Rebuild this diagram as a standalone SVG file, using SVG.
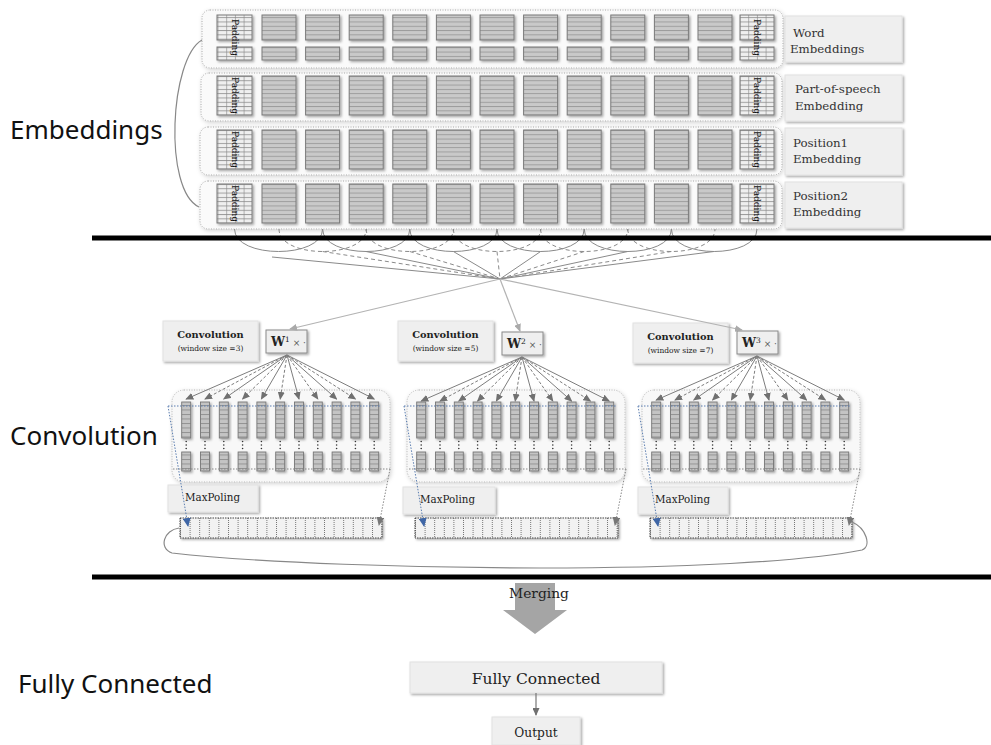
<svg xmlns="http://www.w3.org/2000/svg" xmlns:xlink="http://www.w3.org/1999/xlink" width="991" height="745" viewBox="0 0 991 745">
<defs>
<style>
.cell{fill:url(#hs);stroke:#7a7a7a;stroke-width:1;filter:url(#sh)}
.pad{fill:url(#pg);stroke:#7a7a7a;stroke-width:1;filter:url(#sh)}
.ccell{fill:url(#cs);stroke:#777;stroke-width:0.9;filter:url(#sh)}
.padt{font-family:"DejaVu Serif",serif;font-size:9px;fill:#111}
.row{fill:#fafafa;stroke:#a8a8a8;stroke-width:1;stroke-dasharray:1 1.5;filter:url(#sh2)}
.box{fill:#efefef;stroke:#e2e2e2;stroke-width:1;filter:url(#sh)}
.serif{font-family:"DejaVu Serif",serif;fill:#222}
.lab{font-family:"DejaVu Serif",serif;font-size:11.8px;fill:#333}
.big{font-family:"Noto Sans","Open Sans",sans-serif;font-size:26px;fill:#111}
.thick{stroke:#000;stroke-width:5}
.arc{fill:none;stroke:#8a8a8a;stroke-width:1}
.darc{fill:none;stroke:#8a8a8a;stroke-width:1;stroke-dasharray:4 3}
.fan{stroke:#7d7d7d;stroke-width:1;marker-end:url(#ah)}
.fand{stroke:#7d7d7d;stroke-width:1;stroke-dasharray:3 2;marker-end:url(#ah)}
.big3{stroke:#b3b3b3;stroke-width:1.2;fill:none;marker-end:url(#ahl)}
.blue{stroke:#5a7db0;stroke-width:1;stroke-dasharray:1.5 1.5;fill:none}
.gdot{stroke:#888;stroke-width:1;stroke-dasharray:1.5 1.5;fill:none}
.cont{fill:#f8f8f8;stroke:#b5b5b5;stroke-width:1;stroke-dasharray:1 1.5;filter:url(#sh2)}
.pool{fill:url(#mp);stroke:#444;stroke-width:1;stroke-dasharray:1.5 1;filter:url(#sh)}
</style>
<filter id="sh" x="-30%" y="-30%" width="170%" height="170%"><feDropShadow dx="1.5" dy="1.5" stdDeviation="1.2" flood-color="#000" flood-opacity="0.35"/></filter>
<filter id="sh2" x="-10%" y="-20%" width="120%" height="150%"><feDropShadow dx="1" dy="1.5" stdDeviation="2" flood-color="#000" flood-opacity="0.18"/></filter>
<pattern id="hs" patternUnits="userSpaceOnUse" width="10" height="4.3"><rect width="10" height="4.3" fill="#c9c9c9"/><line x1="0" y1="0.5" x2="10" y2="0.5" stroke="#8e8e8e" stroke-width="0.8"/></pattern>
<pattern id="pg" patternUnits="userSpaceOnUse" width="8.7" height="4.3"><rect width="8.7" height="4.3" fill="#efefef"/><line x1="0" y1="0.5" x2="8.7" y2="0.5" stroke="#777" stroke-width="0.7"/><line x1="0.5" y1="0" x2="0.5" y2="4.3" stroke="#888" stroke-width="0.6"/></pattern>
<pattern id="cs" patternUnits="userSpaceOnUse" width="9" height="4.5"><rect width="9" height="4.5" fill="#c4c4c4"/><line x1="0" y1="0.5" x2="9" y2="0.5" stroke="#858585" stroke-width="0.8"/></pattern>
<pattern id="mp" patternUnits="userSpaceOnUse" x="180" y="0" width="9.6" height="20"><rect width="9.6" height="20" fill="#f2f2f2"/><line x1="0.5" y1="0" x2="0.5" y2="20" stroke="#555" stroke-width="0.8" stroke-dasharray="1 1"/></pattern>
<marker id="ah" viewBox="0 0 8 7" markerWidth="8" markerHeight="7" refX="7" refY="3.5" orient="auto" markerUnits="userSpaceOnUse"><path d="M0,0 L8,3.5 L0,7 z" fill="#707070"/></marker>
<marker id="ahl" viewBox="0 0 8 7" markerWidth="8" markerHeight="7" refX="7" refY="3.5" orient="auto" markerUnits="userSpaceOnUse"><path d="M0,0 L8,3.5 L0,7 z" fill="#aaaaaa"/></marker>
<marker id="ahb" viewBox="0 0 9 8" markerWidth="9" markerHeight="8" refX="8" refY="4" orient="auto" markerUnits="userSpaceOnUse"><path d="M0,0 L9,4 L0,8 z" fill="#3f66a6"/></marker>
<marker id="ahg" viewBox="0 0 9 8" markerWidth="9" markerHeight="8" refX="8" refY="4" orient="auto" markerUnits="userSpaceOnUse"><path d="M0,0 L9,4 L0,8 z" fill="#777"/></marker>
<g id="cells11">
<rect class="cell" x="262" y="0" width="34" height="39"/><rect class="cell" x="305.6" y="0" width="34" height="39"/><rect class="cell" x="349.2" y="0" width="34" height="39"/><rect class="cell" x="392.8" y="0" width="34" height="39"/><rect class="cell" x="436.4" y="0" width="34" height="39"/><rect class="cell" x="480" y="0" width="34" height="39"/><rect class="cell" x="523.6" y="0" width="34" height="39"/><rect class="cell" x="567.2" y="0" width="34" height="39"/><rect class="cell" x="610.8" y="0" width="34" height="39"/><rect class="cell" x="654.4" y="0" width="34" height="39"/><rect class="cell" x="698" y="0" width="34" height="39"/>
<rect class="pad" x="217" y="0" width="35" height="39"/><rect class="pad" x="740" y="0" width="34" height="39"/>
<text class="padt" transform="translate(234.5,19.5) rotate(90)" text-anchor="middle" dominant-baseline="central">Padding</text>
<text class="padt" transform="translate(757,19.5) rotate(90)" text-anchor="middle" dominant-baseline="central">Padding</text>
</g>
<g id="col"><rect class="ccell" x="0" y="402" width="9" height="36"/><circle cx="4.5" cy="441.5" r="0.8" fill="#333"/><circle cx="4.5" cy="445" r="0.8" fill="#333"/><circle cx="4.5" cy="448.5" r="0.8" fill="#333"/><rect class="ccell" x="0" y="452" width="9" height="19"/></g>
<g id="maps">
<rect class="cont" x="172" y="390" width="218" height="92" rx="12"/>
<use href="#col" x="181.7"/><use href="#col" x="200.5"/><use href="#col" x="219.3"/><use href="#col" x="238.1"/><use href="#col" x="256.9"/><use href="#col" x="275.7"/><use href="#col" x="294.5"/><use href="#col" x="313.3"/><use href="#col" x="332.1"/><use href="#col" x="350.9"/><use href="#col" x="369.7"/>
</g>
<g id="fanlines">
<line class="fan" x1="287" y1="355" x2="186.2" y2="399"/><line class="fand" x1="287" y1="355" x2="205" y2="399"/><line class="fan" x1="287" y1="355" x2="223.8" y2="399"/><line class="fand" x1="287" y1="355" x2="242.6" y2="399"/><line class="fan" x1="287" y1="355" x2="261.4" y2="399"/><line class="fand" x1="287" y1="355" x2="280.2" y2="399"/><line class="fan" x1="287" y1="355" x2="299" y2="399"/><line class="fand" x1="287" y1="355" x2="317.8" y2="399"/><line class="fan" x1="287" y1="355" x2="336.6" y2="399"/><line class="fand" x1="287" y1="355" x2="355.4" y2="399"/><line class="fan" x1="287" y1="355" x2="374.2" y2="399"/>
</g>
<g id="proj">
<line class="blue" x1="168" y1="406" x2="380" y2="406"/>
<line class="blue" x1="168" y1="406" x2="188" y2="526" marker-end="url(#ahb)"/>
<line class="gdot" x1="173" y1="469" x2="390" y2="469"/>
<line class="gdot" x1="390" y1="469" x2="379" y2="525" marker-end="url(#ahg)"/>
</g>
</defs>
<rect width="991" height="745" fill="#fff"/>

<g id="section-labels">
<text class="big" x="10" y="139">Embeddings</text>
<text class="big" x="10" y="445">Convolution</text>
<text class="big" x="18" y="693">Fully Connected</text>
</g>

<g id="row-word">
<rect class="row" x="202" y="10" width="581" height="58" rx="8"/>
<rect class="cell" x="262" y="15" width="34" height="25"/><rect class="cell" x="305.6" y="15" width="34" height="25"/><rect class="cell" x="349.2" y="15" width="34" height="25"/><rect class="cell" x="392.8" y="15" width="34" height="25"/><rect class="cell" x="436.4" y="15" width="34" height="25"/><rect class="cell" x="480" y="15" width="34" height="25"/><rect class="cell" x="523.6" y="15" width="34" height="25"/><rect class="cell" x="567.2" y="15" width="34" height="25"/><rect class="cell" x="610.8" y="15" width="34" height="25"/><rect class="cell" x="654.4" y="15" width="34" height="25"/><rect class="cell" x="698" y="15" width="34" height="25"/>
<rect class="cell" x="262" y="47" width="34" height="13"/><rect class="cell" x="305.6" y="47" width="34" height="13"/><rect class="cell" x="349.2" y="47" width="34" height="13"/><rect class="cell" x="392.8" y="47" width="34" height="13"/><rect class="cell" x="436.4" y="47" width="34" height="13"/><rect class="cell" x="480" y="47" width="34" height="13"/><rect class="cell" x="523.6" y="47" width="34" height="13"/><rect class="cell" x="567.2" y="47" width="34" height="13"/><rect class="cell" x="610.8" y="47" width="34" height="13"/><rect class="cell" x="654.4" y="47" width="34" height="13"/><rect class="cell" x="698" y="47" width="34" height="13"/>
<rect class="pad" x="217" y="15" width="35" height="25"/><rect class="pad" x="217" y="47" width="35" height="13"/>
<rect class="pad" x="740" y="15" width="34" height="25"/><rect class="pad" x="740" y="47" width="34" height="13"/>
<text class="padt" transform="translate(234.5,37.5) rotate(90)" text-anchor="middle" dominant-baseline="central">Padding</text>
<text class="padt" transform="translate(757,37.5) rotate(90)" text-anchor="middle" dominant-baseline="central">Padding</text>
<rect class="box" x="785" y="16" width="117" height="46"/>
<text class="lab" x="793" y="37">Word</text><text class="lab" x="790" y="53">Embeddings</text>
</g>

<g id="row-pos">
<rect class="row" x="201" y="73" width="581" height="48" rx="8"/>
<use href="#cells11" y="76"/>
<rect class="box" x="785" y="75" width="117" height="46"/>
<text class="lab" x="795" y="93">Part-of-speech</text><text class="lab" x="795" y="110">Embedding</text>
</g>

<g id="row-position1">
<rect class="row" x="200" y="127" width="582" height="48" rx="8"/>
<use href="#cells11" y="130"/>
<rect class="box" x="785" y="128" width="117" height="47"/>
<text class="lab" x="793" y="147">Position1</text><text class="lab" x="793" y="163">Embedding</text>
</g>

<g id="row-position2">
<rect class="row" x="200" y="181" width="582" height="48" rx="8"/>
<use href="#cells11" y="184"/>
<rect class="box" x="785" y="182" width="117" height="46"/>
<text class="lab" x="793" y="200">Position2</text><text class="lab" x="793" y="216">Embedding</text>
</g>

<g id="conv1-label"><rect class="box" x="163" y="321" width="95" height="40"/>
<text class="serif" x="210.5" y="338" text-anchor="middle" font-size="9.8" font-weight="bold">Convolution</text>
<text class="serif" x="210.5" y="351" text-anchor="middle" font-size="7.5" fill="#444">(window size =3)</text></g>
<g id="conv1-w"><rect class="box" x="266" y="330" width="41" height="23" style="stroke:#8a8a8a"/>
<text class="serif" x="271" y="346"><tspan font-weight="bold" font-size="12.5">W</tspan><tspan font-size="7.5" dy="-4">1</tspan><tspan font-size="9" dy="4" fill="#555"> × ·</tspan></text></g>
<g id="conv1-maps"><use href="#maps"/></g>
<g id="conv1-maxlabel"><rect class="box" x="168" y="485" width="90" height="27"/><text class="serif" x="185" y="501" font-size="10.3">MaxPoling</text></g>
<g id="conv1-pool"><rect class="pool" x="180" y="518" width="202" height="20"/></g>

<g transform="translate(235,0)">
<g id="conv2-label"><rect class="box" x="163" y="321" width="95" height="40"/>
<text class="serif" x="210.5" y="338" text-anchor="middle" font-size="9.8" font-weight="bold">Convolution</text>
<text class="serif" x="210.5" y="351" text-anchor="middle" font-size="7.5" fill="#444">(window size =5)</text></g>
<g id="conv2-w"><rect class="box" x="267" y="332" width="41" height="23" style="stroke:#8a8a8a"/>
<text class="serif" x="272" y="348"><tspan font-weight="bold" font-size="12.5">W</tspan><tspan font-size="7.5" dy="-4">2</tspan><tspan font-size="9" dy="4" fill="#555"> × ·</tspan></text></g>
<g id="conv2-maps"><use href="#maps"/></g>
<g id="conv2-maxlabel"><rect class="box" x="168" y="487" width="92" height="27"/><text class="serif" x="185" y="503" font-size="10.3">MaxPoling</text></g>
<g id="conv2-pool"><rect class="pool" x="180" y="518" width="203" height="20"/></g>
</g>

<g transform="translate(470,0)">
<g id="conv3-label"><rect class="box" x="163" y="323" width="95" height="40"/>
<text class="serif" x="210.5" y="340" text-anchor="middle" font-size="9.8" font-weight="bold">Convolution</text>
<text class="serif" x="210.5" y="353" text-anchor="middle" font-size="7.5" fill="#444">(window size =7)</text></g>
<g id="conv3-w"><rect class="box" x="267" y="331" width="41" height="23" style="stroke:#8a8a8a"/>
<text class="serif" x="272" y="347"><tspan font-weight="bold" font-size="12.5">W</tspan><tspan font-size="7.5" dy="-4">3</tspan><tspan font-size="9" dy="4" fill="#555"> × ·</tspan></text></g>
<g id="conv3-maps"><use href="#maps"/></g>
<g id="conv3-maxlabel"><rect class="box" x="168" y="487" width="90" height="27"/><text class="serif" x="185" y="503" font-size="10.3">MaxPoling</text></g>
<g id="conv3-pool"><rect class="pool" x="180" y="518" width="202" height="20"/></g>
</g>

<g id="fully-connected"><rect class="box" x="410" y="662" width="252" height="31"/>
<text class="serif" x="536" y="684" text-anchor="middle" font-size="15.5">Fully Connected</text></g>
<g id="output"><rect class="box" x="492" y="717" width="88" height="28"/>
<text class="serif" x="536" y="737" text-anchor="middle" font-size="12.2">Output</text></g>

<g id="connectors">
<path d="M202,40 C170,58 163,190 199,207" fill="none" stroke="#888" stroke-width="1.2"/>
<path class="arc" d="M234.5,229 C234.5,259 322.6,259 322.6,229 M322.6,229 C322.6,259 409.8,259 409.8,229 M409.8,229 C409.8,259 497,259 497,229 M497,229 C497,259 584.2,259 584.2,229 M584.2,229 C584.2,259 671.4,259 671.4,229 M671.4,229 C671.4,259 757,259 757,229"/>
<path class="darc" d="M279,229 C279,259 366.2,259 366.2,229 M366.2,229 C366.2,259 453.4,259 453.4,229 M453.4,229 C453.4,259 540.6,259 540.6,229 M540.6,229 C540.6,259 627.8,259 627.8,229 M627.8,229 C627.8,259 715,259 715,229"/>
<path class="arc" d="M272,257 L500,279 M366,251.5 L500,279 M453.4,251.5 L500,279 M540.6,251.5 L500,279 M627.8,251.5 L500,279 M714,251.5 L500,279"/>
<path class="darc" d="M322.6,251.5 L500,279 M409.8,251.5 L500,279 M497,251.5 L500,279 M584.2,251.5 L500,279 M671.4,251.5 L500,279"/>
<line class="big3" x1="500" y1="279" x2="290" y2="329"/>
<line class="big3" x1="500" y1="279" x2="520" y2="331"/>
<line class="big3" x1="500" y1="279" x2="742" y2="330"/>
<use href="#fanlines"/>
<use href="#fanlines" transform="translate(235,2)"/>
<use href="#fanlines" transform="translate(470,1)"/>
<use href="#proj"/>
<use href="#proj" transform="translate(236,0)"/>
<use href="#proj" transform="translate(470,0)"/>
<path d="M179,528 C164,530 158,548 172,553 C260,563 420,568 540,568 C680,568 800,562 862,550 C872,546 866,528 852,522" fill="none" stroke="#888" stroke-width="1.2"/>
<polygon points="515,583 555,583 555,610 567,610 535,634 503,610 515,610" fill="#a5a5a5"/>
<text class="serif" x="539" y="598" text-anchor="middle" font-size="13.8">Merging</text>
<line x1="536" y1="693" x2="536" y2="715" stroke="#777" stroke-width="1.2" marker-end="url(#ah)"/>
</g>

<g id="separators">
<line class="thick" x1="92" y1="238" x2="991" y2="238"/>
<line class="thick" x1="92" y1="577" x2="991" y2="577"/>
</g>
</svg>
